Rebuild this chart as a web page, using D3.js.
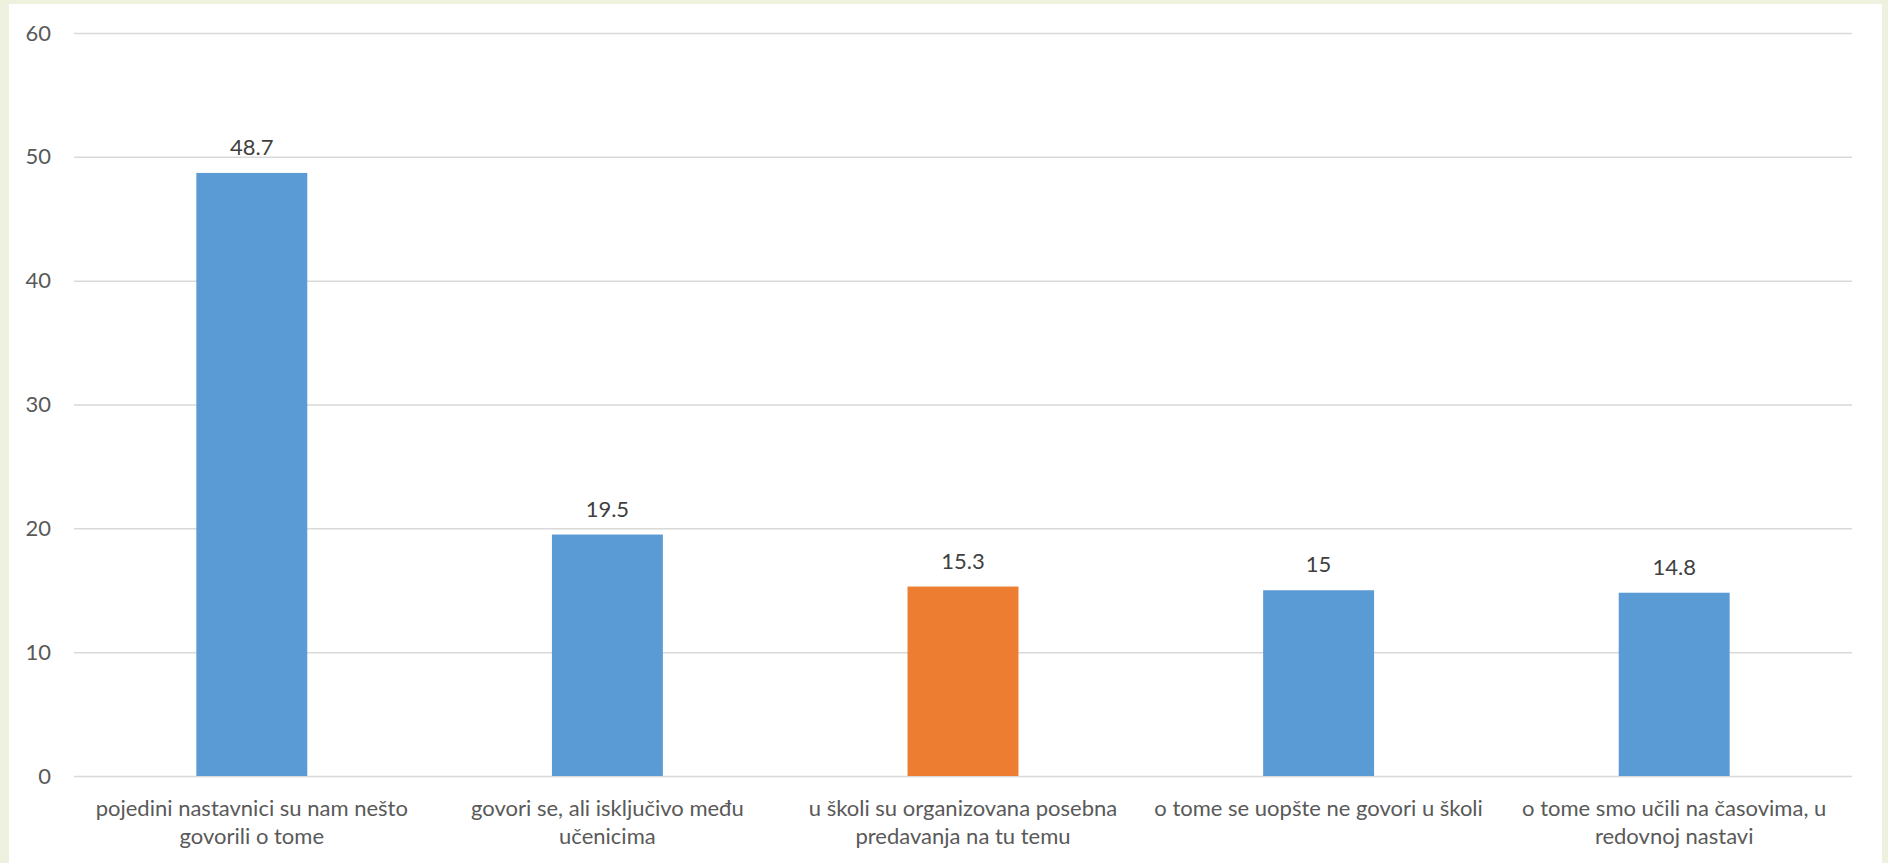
<!DOCTYPE html>
<html>
<head>
<meta charset="utf-8">
<script src="https://cdn.jsdelivr.net/npm/d3@7"></script>
<style>
  html, body { margin: 0; padding: 0; background: #edf1dd; }
  svg { display: block; }
</style>
</head>
<body>
<svg id="chart" width="1888" height="863"></svg>
<script>
const categories = [
  "pojedini nastavnici su nam nešto govorili o tome",
  "govori se, ali isključivo među učenicima",
  "u školi su organizovana posebna predavanja na tu temu",
  "o tome se uopšte ne govori u školi",
  "o tome smo učili na časovima, u redovnoj nastavi"
];
const categoryLines = [
  ["pojedini nastavnici su nam nešto", "govorili o tome"],
  ["govori se, ali isključivo među", "učenicima"],
  ["u školi su organizovana posebna", "predavanja na tu temu"],
  ["o tome se uopšte ne govori u školi"],
  ["o tome smo učili na časovima, u", "redovnoj nastavi"]
];
const values = [48.7, 19.5, 15.3, 15, 14.8];
const highlighted = [false, false, true, false, false];
const yTicks = [0, 10, 20, 30, 40, 50, 60];

(function () {
const svg = d3.select("#chart");
const W = 1888, H = 863;
const FONT = "Lato, 'Open Sans', sans-serif";

svg.append("rect").attr("x", 9).attr("y", 4).attr("width", 1873).attr("height", H - 4).attr("fill", "#ffffff");

const mLeft = 74, mRight = 1852, mTop = 33, mBottom = 776;

const x = d3.scaleBand().domain(categories).range([mLeft, mRight]).paddingInner(0.688).paddingOuter(0.344);
const y = d3.scaleLinear().domain([0, 60]).range([mBottom, mTop]);

const yAxis = d3.axisLeft(y).tickValues(yTicks).tickSize(-(mRight - mLeft)).tickPadding(23).tickFormat(d3.format("d"));
const gy = svg.append("g").attr("transform", `translate(${mLeft},0)`).call(yAxis);
gy.select(".domain").remove();
gy.selectAll(".tick line").attr("stroke", "#d9d9d9").attr("stroke-width", 1.5);
gy.selectAll(".tick text").attr("fill", "#595959").attr("font-family", FONT).attr("font-size", 22);

svg.append("g").selectAll("rect").data(values).join("rect")
  .attr("x", (d, i) => x(categories[i]))
  .attr("width", x.bandwidth())
  .attr("y", d => y(d))
  .attr("height", d => y(0) - y(d))
  .attr("fill", (d, i) => highlighted[i] ? "#ed7d31" : "#5b9bd5");

svg.append("g").selectAll("text").data(values).join("text")
  .attr("x", (d, i) => x(categories[i]) + x.bandwidth() / 2)
  .attr("y", d => y(d) - 18)
  .attr("text-anchor", "middle")
  .attr("fill", "#404040")
  .attr("font-family", FONT)
  .attr("font-size", 22)
  .text(d => d);

const xl = svg.append("g");
categories.forEach((c, i) => {
  const t = xl.append("text")
    .attr("x", x(c) + x.bandwidth() / 2)
    .attr("y", 816)
    .attr("text-anchor", "middle")
    .attr("fill", "#595959")
    .attr("font-family", FONT)
    .attr("font-size", 22);
  categoryLines[i].forEach((ln, j) => {
    t.append("tspan").attr("x", x(c) + x.bandwidth() / 2).attr("dy", j === 0 ? 0 : 28).text(ln);
  });
});
})();
</script>
</body>
</html>
